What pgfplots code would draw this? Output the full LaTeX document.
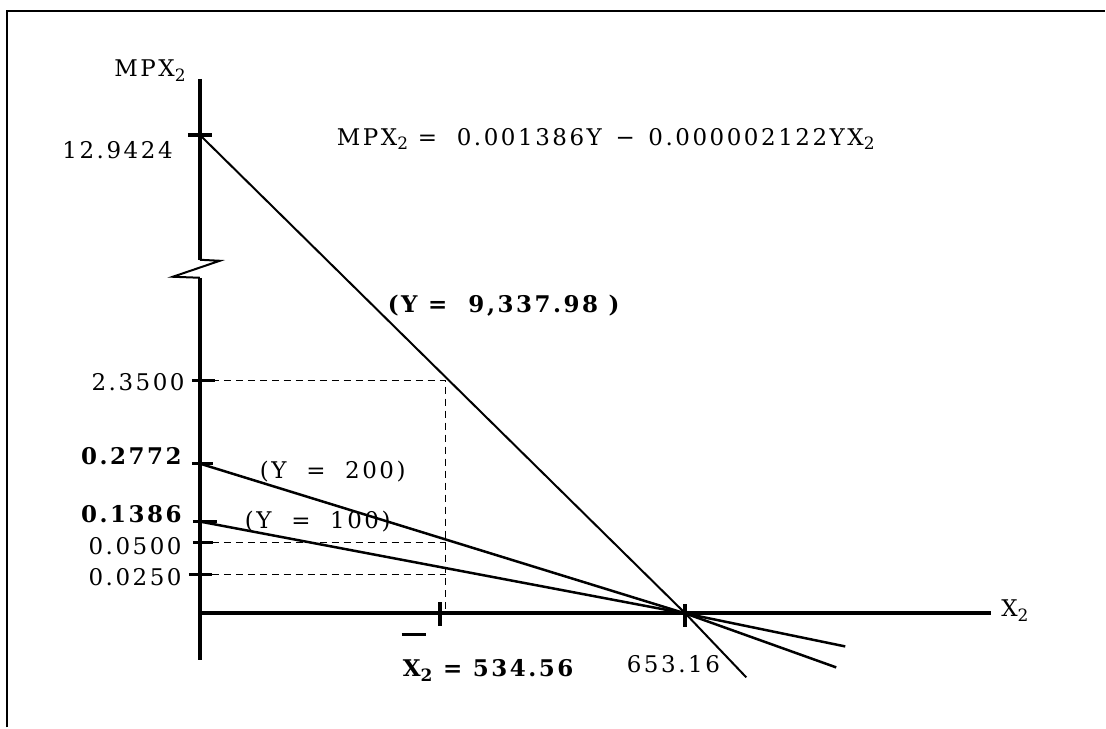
\documentclass[border=0pt]{standalone}
\usepackage{fontspec}
\setmainfont{DejaVu Serif}[LetterSpace=11]
\usepackage{pgfplots}
\pgfplotsset{compat=1.18}
\newcommand{\sub}[1]{\raisebox{-0.4ex}{\fontsize{17}{17}\selectfont #1}}
\begin{document}
\begin{tikzpicture}[lab/.style={font=\fontsize{23}{28}\selectfont, inner sep=0pt}]
\begin{axis}[width=1106pt,height=728pt,scale only axis,
  xmin=0,xmax=1106,ymin=0,ymax=728,y dir=reverse,hide axis,clip=false]
\path (axis cs:0,0) rectangle (axis cs:1106,728);
% frame
\addplot[black, line width=2pt] coordinates {(7,728) (7,11) (1106,11)};
% y axis with break
\addplot[black, line width=4pt] coordinates {(200,79) (200,260)};
\addplot[black, line width=2pt] coordinates {(200,260) (220,261) (173,277) (200,278)};
\addplot[black, line width=4pt] coordinates {(200,278) (200,661)};
% x axis
\addplot[black, line width=4pt] coordinates {(200,614) (992,614)};
% y ticks
\addplot[black, line width=3.5pt] coordinates {(188,135) (212,135)};
\addplot[black, line width=3.5pt] coordinates {(192,381) (215,381)};
\addplot[black, line width=3.5pt] coordinates {(192,464) (213,464)};
\addplot[black, line width=3.5pt] coordinates {(193,522) (217,522)};
\addplot[black, line width=3.5pt] coordinates {(193,543) (213,543)};
\addplot[black, line width=3.5pt] coordinates {(189,575) (212,575)};
% x ticks
\addplot[black, line width=4pt] coordinates {(686,605) (686,628)};
\addplot[black, line width=4pt] coordinates {(440,603) (440,627)};
\addplot[black, line width=3.5pt] coordinates {(402,635) (426,635)};
% dashed guides
\addplot[black, line width=1.5pt, dash pattern=on 7pt off 5pt] coordinates {(200,381) (446,381) (446,614)};
\addplot[black, line width=1.5pt, dash pattern=on 7pt off 5pt] coordinates {(200,543) (446,543)};
\addplot[black, line width=1.5pt, dash pattern=on 7pt off 5pt] coordinates {(200,575) (446,575)};
% MPX2 lines
\addplot[black, line width=2pt] coordinates {(200,135) (686,614) (747,678)};
\addplot[black, line width=2.5pt] coordinates {(200,464) (686,614) (837,668)};
\addplot[black, line width=2.5pt] coordinates {(200,522) (686,614) (846,647)};
% labels
\node[lab, anchor=east] at (axis cs:186,71) {MPX\sub{2}};
\node[lab, anchor=east] at (axis cs:173,150) {12.9424};
\node[lab, anchor=west] at (axis cs:337,139) {MPX\sub{2} = \ 0.001386Y \,−\, 0.000002122YX\sub{2}};
\node[lab, anchor=west] at (axis cs:388,306) {\bfseries (Y = \ 9,337.98 )};
\node[lab, anchor=east] at (axis cs:185,382) {2.3500};
\node[lab, anchor=east] at (axis cs:182,457) {\bfseries 0.2772};
\node[lab, anchor=west] at (axis cs:260,472) {(Y \ = \ 200)};
\node[lab, anchor=east] at (axis cs:182,515) {\bfseries 0.1386};
\node[lab, anchor=west] at (axis cs:245,522) {(Y \ = \ 100)};
\node[lab, anchor=east] at (axis cs:182,547) {0.0500};
\node[lab, anchor=east] at (axis cs:182,578) {0.0250};
\node[lab, anchor=west] at (axis cs:1002,611) {X\sub{2}};
\node[lab] at (axis cs:674,665) {653.16};
\node[lab, anchor=west] at (axis cs:403,671) {\bfseries X\sub{\bfseries 2} = 534.56};
\end{axis}
\end{tikzpicture}
\end{document}
